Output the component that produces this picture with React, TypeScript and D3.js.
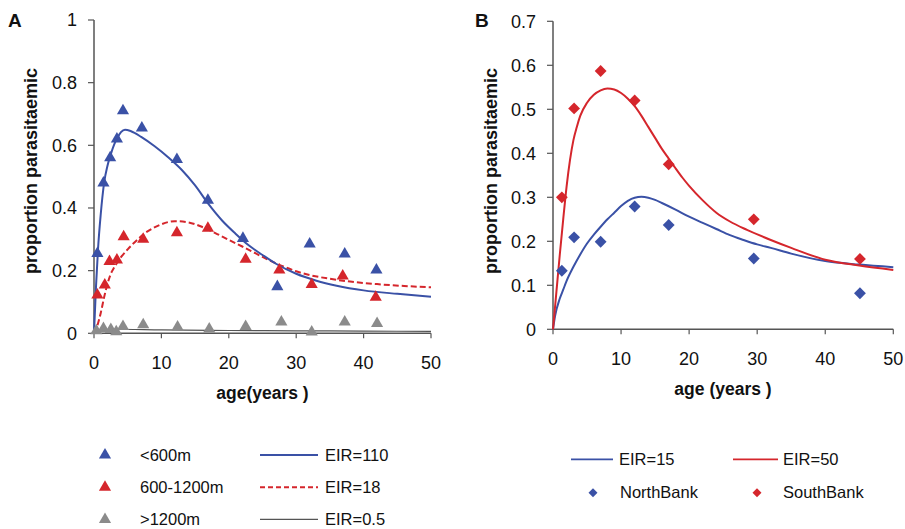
import React from "react";
import * as d3 from "d3";

// ---------- Panel A data ----------
const ageLow = [0.5, 1.4, 2.4, 3.4, 4.3, 7.1, 12.3, 16.9, 22.1, 27.2, 32.0, 37.2, 41.9];
const propLow = [0.255, 0.48, 0.56, 0.62, 0.71, 0.655, 0.555, 0.425, 0.303, 0.149, 0.285, 0.253, 0.202];

const ageMid = [0.5, 1.6, 2.3, 3.4, 4.4, 7.3, 12.3, 16.9, 22.5, 27.5, 32.3, 36.9, 41.8];
const propMid = [0.122, 0.154, 0.229, 0.234, 0.308, 0.30, 0.321, 0.335, 0.236, 0.202, 0.156, 0.183, 0.115];

const ageHigh = [0.35, 1.4, 2.5, 3.3, 4.3, 7.3, 12.4, 17.1, 22.5, 27.8, 32.3, 37.2, 42.0];
const propHigh = [0.008, 0.015, 0.012, 0.005, 0.022, 0.027, 0.02, 0.014, 0.022, 0.036, 0.004, 0.036, 0.031];

const eir110Age = [0, 0.3, 0.6, 1, 1.5, 2, 2.5, 3, 3.5, 4, 4.6, 5.5, 7, 9, 11, 13, 15, 17, 19, 21, 23, 25, 27, 30, 33, 36, 40, 45, 50];
const eir110Prop = [0, 0.15, 0.27, 0.38, 0.48, 0.535, 0.572, 0.603, 0.625, 0.642, 0.65, 0.645, 0.627, 0.597, 0.562, 0.522, 0.472, 0.412, 0.36, 0.318, 0.28, 0.25, 0.222, 0.19, 0.168, 0.152, 0.137, 0.126, 0.117];

const eir18Age = [0, 0.5, 1, 1.5, 2, 2.5, 3, 3.5, 4, 5, 6, 8, 10, 12, 14, 16, 18, 20, 22, 24, 26, 28, 30, 32, 35, 38, 42, 46, 50];
const eir18Prop = [0, 0.025, 0.065, 0.115, 0.158, 0.19, 0.21, 0.228, 0.243, 0.268, 0.29, 0.326, 0.348, 0.358, 0.354, 0.34, 0.32, 0.298, 0.277, 0.255, 0.233, 0.214, 0.198, 0.186, 0.174, 0.165, 0.157, 0.151, 0.147];

const eir05Age = [0, 1, 3, 10, 20, 30, 40, 50];
const eir05Prop = [0, 0.012, 0.013, 0.011, 0.009, 0.008, 0.007, 0.006];

// ---------- Panel B data ----------
const ageBank = [1.3, 3.1, 7.0, 12.0, 17.0, 29.5, 45.1];
const propNorth = [0.133, 0.209, 0.199, 0.279, 0.237, 0.161, 0.082];
const propSouth = [0.30, 0.502, 0.587, 0.52, 0.375, 0.25, 0.16];

const eir15Age = [0, 0.3, 1, 1.5, 2, 3, 4, 5, 6, 7, 8, 9, 10, 11, 12, 13, 14, 15, 16, 18, 20, 22, 24, 26, 28, 30, 32, 35, 40, 45, 50];
const eir15Prop = [0, 0.03, 0.07, 0.09, 0.11, 0.142, 0.17, 0.195, 0.215, 0.233, 0.25, 0.265, 0.28, 0.292, 0.299, 0.301, 0.299, 0.294, 0.287, 0.272, 0.256, 0.242, 0.228, 0.214, 0.203, 0.193, 0.185, 0.172, 0.155, 0.147, 0.141];

const eir50Age = [0, 0.5, 1, 1.5, 2, 2.5, 3, 3.5, 4, 5, 6, 7, 8, 9, 10, 11, 12, 13, 14, 15, 16, 17, 18, 19, 20, 22, 24, 26, 28.5, 32, 35, 40, 45, 50];
const eir50Prop = [0, 0.085, 0.17, 0.25, 0.325, 0.385, 0.43, 0.46, 0.485, 0.515, 0.533, 0.543, 0.547, 0.545, 0.537, 0.524, 0.507, 0.485, 0.46, 0.435, 0.41, 0.388, 0.366, 0.345, 0.326, 0.293, 0.265, 0.245, 0.226, 0.203, 0.185, 0.158, 0.145, 0.135];

const xTicks = [0, 10, 20, 30, 40, 50];
const yTicksA = [0, 0.2, 0.4, 0.6, 0.8, 1];
const yTicksB = [0, 0.1, 0.2, 0.3, 0.4, 0.5, 0.6, 0.7];

const BLUE = "#3a51a6";
const RED = "#d5262c";
const GRAY = "#8b8b8b";
const AXIS = "#555";
const FONT = "'Liberation Sans', Arial, sans-serif";

const zip = (a: number[], b: number[]) => a.map((v, i) => [v, b[i]] as [number, number]);

export default function App() {
  // scales
  const xA = d3.scaleLinear().domain([0, 50]).range([94, 431]);
  const yA = d3.scaleLinear().domain([0, 1]).range([333.3, 20]);
  const xB = d3.scaleLinear().domain([0, 50]).range([553, 893.3]);
  const yB = d3.scaleLinear().domain([0, 0.7]).range([329.3, 21.3]);

  const lineA = d3.line<[number, number]>().x((d) => xA(d[0])).y((d) => yA(d[1])).curve(d3.curveMonotoneX);
  const lineB = d3.line<[number, number]>().x((d) => xB(d[0])).y((d) => yB(d[1])).curve(d3.curveMonotoneX);

  const tri = d3.symbol().type(d3.symbolTriangle).size(64)() as string;
  const diamond = d3.symbol().type(d3.symbolSquare).size(70)() as string;

  const tickFont = 18;

  const axes = (
    x: d3.ScaleLinear<number, number>,
    y: d3.ScaleLinear<number, number>,
    yTicks: number[],
    fmt: (v: number) => string
  ) => {
    const [x0, x1] = x.range();
    const [y0, y1] = y.range();
    return (
      <g>
        <line x1={x0} x2={x0} y1={y0} y2={y1} stroke={AXIS} strokeWidth={1.5} />
        <line x1={x0} x2={x1} y1={y0} y2={y0} stroke={AXIS} strokeWidth={1.5} />
        {yTicks.map((t) => (
          <g key={"y" + t}>
            <line x1={x0 - 6} x2={x0} y1={y(t)} y2={y(t)} stroke={AXIS} strokeWidth={1.2} />
            <text x={x0 - 17} y={y(t)} dy="0.35em" textAnchor="end" fontSize={tickFont} fontFamily={FONT} fill="#111">
              {fmt(t)}
            </text>
          </g>
        ))}
        {xTicks.map((t) => (
          <g key={"x" + t}>
            <line x1={x(t)} x2={x(t)} y1={y0} y2={y0 + 5} stroke={AXIS} strokeWidth={1.2} />
            <text x={x(t)} y={y0 + 36} textAnchor="middle" fontSize={tickFont} fontFamily={FONT} fill="#111">
              {t}
            </text>
          </g>
        ))}
      </g>
    );
  };

  const fmtA = (v: number) => (v === 0 ? "0" : v === 1 ? "1" : d3.format(".1f")(v));
  const fmtB = (v: number) => (v === 0 ? "0" : d3.format(".1f")(v));

  return (
    <svg width={905} height={529} style={{ position: "absolute", left: 0, top: 0, background: "#fff" }} fontFamily={FONT}>
      <rect width={905} height={529} fill="#fff" />
      {/* Panel A */}
      <text x={8} y={26.5} fontSize={19} fontWeight="bold" fill="#111">A</text>
      {axes(xA, yA, yTicksA, fmtA)}
      <text transform={`translate(37,171) rotate(-90)`} textAnchor="middle" fontSize={18} fontWeight="bold" fill="#111">
        proportion parasitaemic
      </text>
      <text x={262.5} y={399} textAnchor="middle" fontSize={17.5} fontWeight="bold" fill="#111">
        age(years )
      </text>
      <path d={lineA(zip(eir05Age, eir05Prop)) as string} fill="none" stroke="#555" strokeWidth={1.2} />
      <path d={lineA(zip(eir18Age, eir18Prop)) as string} fill="none" stroke={RED} strokeWidth={2} strokeDasharray="6,3" />
      <path d={lineA(zip(eir110Age, eir110Prop)) as string} fill="none" stroke={BLUE} strokeWidth={2} />
      {zip(ageHigh, propHigh).map((d, i) => (
        <path key={"h" + i} d={tri} transform={`translate(${xA(d[0])},${yA(d[1])})`} fill={GRAY} />
      ))}
      {zip(ageMid, propMid).map((d, i) => (
        <path key={"m" + i} d={tri} transform={`translate(${xA(d[0])},${yA(d[1])})`} fill={RED} />
      ))}
      {zip(ageLow, propLow).map((d, i) => (
        <path key={"l" + i} d={tri} transform={`translate(${xA(d[0])},${yA(d[1])})`} fill={BLUE} />
      ))}

      {/* Panel A legend */}
      {[
        { c: BLUE, t: "<600m", l: "EIR=110", lc: BLUE, dash: "", w: 2 },
        { c: RED, t: "600-1200m", l: "EIR=18", lc: RED, dash: "5,3", w: 2 },
        { c: GRAY, t: ">1200m", l: "EIR=0.5", lc: "#555", dash: "", w: 1.2 },
      ].map((r, i) => {
        const yy = 455 + i * 32.2;
        return (
          <g key={"la" + i}>
            <path d={tri} transform={`translate(105,${yy})`} fill={r.c} />
            <text x={140} y={yy} dy="0.35em" fontSize={16.5} fill="#111">{r.t}</text>
            <line x1={260} x2={318} y1={yy} y2={yy} stroke={r.lc} strokeWidth={r.w} strokeDasharray={r.dash} />
            <text x={325} y={yy} dy="0.35em" fontSize={16.5} fill="#111">{r.l}</text>
          </g>
        );
      })}

      {/* Panel B */}
      <text x={475} y={26.5} fontSize={19} fontWeight="bold" fill="#111">B</text>
      {axes(xB, yB, yTicksB, fmtB)}
      <text transform={`translate(497,171) rotate(-90)`} textAnchor="middle" fontSize={18} fontWeight="bold" fill="#111">
        proportion parasitaemic
      </text>
      <text x={723} y={395} textAnchor="middle" fontSize={17.5} fontWeight="bold" fill="#111">
        age (years )
      </text>
      <path d={lineB(zip(eir15Age, eir15Prop)) as string} fill="none" stroke={BLUE} strokeWidth={2} />
      <path d={lineB(zip(eir50Age, eir50Prop)) as string} fill="none" stroke={RED} strokeWidth={2} />
      {zip(ageBank, propNorth).map((d, i) => (
        <path key={"n" + i} d={diamond} transform={`translate(${xB(d[0])},${yB(d[1])}) rotate(45)`} fill={BLUE} />
      ))}
      {zip(ageBank, propSouth).map((d, i) => (
        <path key={"s" + i} d={diamond} transform={`translate(${xB(d[0])},${yB(d[1])}) rotate(45)`} fill={RED} />
      ))}

      {/* Panel B legend */}
      <line x1={571} x2={613} y1={459.3} y2={459.3} stroke={BLUE} strokeWidth={1.8} />
      <text x={619} y={459.3} dy="0.35em" fontSize={16.5} fill="#111">EIR=15</text>
      <line x1={733} x2={778} y1={459.3} y2={459.3} stroke={RED} strokeWidth={1.8} />
      <text x={783} y={459.3} dy="0.35em" fontSize={16.5} fill="#111">EIR=50</text>
      <path d={d3.symbol().type(d3.symbolSquare).size(40)() as string} transform="translate(593,492.7) rotate(45)" fill={BLUE} />
      <text x={620} y={492.7} dy="0.35em" fontSize={16.5} fill="#111">NorthBank</text>
      <path d={d3.symbol().type(d3.symbolSquare).size(40)() as string} transform="translate(757,492.7) rotate(45)" fill={RED} />
      <text x={783} y={492.7} dy="0.35em" fontSize={16.5} fill="#111">SouthBank</text>
    </svg>
  );
}
